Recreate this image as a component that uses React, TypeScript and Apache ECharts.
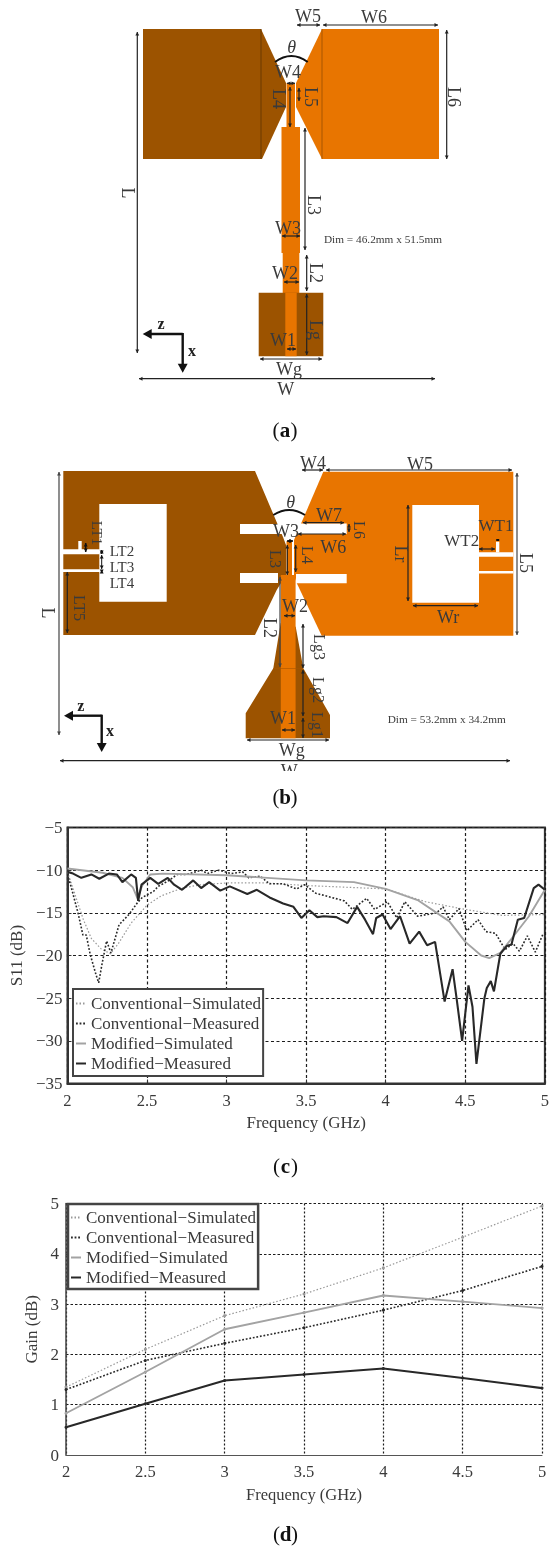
import React, { useEffect, useRef } from "react";
import * as echarts from "echarts";

const SERIES_NAMES = [
  "Conventional\u2212Simulated",
  "Conventional\u2212Measured",
  "Modified\u2212Simulated",
  "Modified\u2212Measured",
];

const s11ConvSim = [
  [2, -10.2], [2.05, -13], [2.1, -15.8], [2.15, -18], [2.21, -19.2], [2.27, -19.8], [2.32, -18.6], [2.4, -16.2],
  [2.5, -14.1], [2.59, -13], [2.72, -12.1], [2.84, -11.7], [3, -11.5], [3.25, -11.5], [3.5, -11.8], [3.75, -12],
  [4, -12.2], [4.25, -13.7], [4.5, -14.6], [4.73, -15.3], [5, -15.2],
];
const s11ConvMeas = [
  [2, -10.5], [2.025, -12.1], [2.066, -15], [2.097, -17.6], [2.118, -17.6], [2.143, -19.9], [2.18, -22.3], [2.196, -23.2],
  [2.217, -21], [2.246, -18.3], [2.273, -19.7], [2.324, -16.4], [2.386, -15.2], [2.44, -13.8], [2.47, -13.2], [2.54, -12.5],
  [2.57, -11.9], [2.63, -11.3], [2.69, -10.5], [2.75, -10.5], [2.84, -10], [2.88, -10.4], [2.95, -10], [3.03, -10.4],
  [3.1, -10.2], [3.14, -10.9], [3.21, -10.7], [3.27, -11.6], [3.355, -11.6], [3.44, -12.2], [3.49, -11.7], [3.56, -12.7],
  [3.66, -13.2], [3.74, -13.6], [3.79, -14.6], [3.88, -13.3], [3.93, -14.6], [4.01, -13.7], [4.07, -15.6], [4.12, -13.7],
  [4.2, -15.4], [4.32, -15], [4.36, -14.3], [4.4, -15.8], [4.46, -14.5], [4.51, -17.1], [4.58, -15.8], [4.63, -17.2],
  [4.69, -17.4], [4.75, -19.3], [4.8, -18.6], [4.84, -19.5], [4.89, -17.7], [4.94, -19.6], [4.99, -17.4],
];
const s11ModSim = [
  [2, -9.8], [2.22, -10.3], [2.345, -10.9], [2.41, -12], [2.44, -13.3], [2.47, -11.8], [2.52, -10.5], [2.6, -10.4],
  [3, -10.6], [3.5, -11.2], [3.8, -11.4], [4, -12.2], [4.2, -13.5], [4.4, -16], [4.5, -18.4], [4.6, -20], [4.65, -20.3],
  [4.72, -19.7], [4.8, -17.8], [4.9, -15.4], [5, -12.3],
];
const s11ModMeas = [
  [2, -10.2], [2.035, -10.4], [2.087, -10.9], [2.15, -10.5], [2.2, -11], [2.26, -10.4], [2.31, -10.5], [2.345, -11.4],
  [2.4, -10.5], [2.43, -10.9], [2.444, -13.6], [2.465, -11.7], [2.52, -10.9], [2.57, -11.6], [2.63, -10.9], [2.67, -11.7],
  [2.72, -12.3], [2.79, -11.2], [2.84, -12.1], [2.89, -11.4], [2.96, -12.4], [3.02, -11.9], [3.13, -12.8], [3.19, -12.3],
  [3.27, -13.2], [3.355, -13.9], [3.42, -14.3], [3.47, -15.6], [3.52, -14.7], [3.57, -15.5], [3.61, -15.4], [3.69, -15.5],
  [3.76, -16.2], [3.82, -14.3], [3.87, -15.8], [3.92, -17.5], [3.94, -15.6], [3.98, -15.2], [4.03, -16.9], [4.09, -15.4],
  [4.15, -18.6], [4.21, -17.2], [4.26, -18.8], [4.31, -18.4], [4.37, -25.4], [4.42, -21.6], [4.445, -25], [4.48, -30],
  [4.52, -23.5], [4.545, -26], [4.57, -32.7], [4.62, -25], [4.635, -23.8], [4.66, -23], [4.68, -24.2], [4.72, -19.8],
  [4.76, -18.9], [4.79, -18.7], [4.83, -15.8], [4.87, -15.6], [4.93, -12.1], [4.96, -11.7], [5, -12.3],
];

const gainFreq = [2, 2.5, 3, 3.5, 4, 4.5, 5];
const gainConvSim = [1.35, 2.1, 2.77, 3.2, 3.72, 4.33, 4.95];
const gainConvMeas = [1.3, 1.88, 2.22, 2.53, 2.88, 3.27, 3.75];
const gainModSim = [0.83, 1.65, 2.5, 2.83, 3.17, 3.05, 2.92];
const gainModMeas = [0.55, 1.02, 1.48, 1.6, 1.72, 1.53, 1.33];

const BROWN = "#9C5300";
const ORANGE = "#E87500";
const SERIF = "Liberation Serif";
const TEXT = "#3a3a3a";

const LINE_STYLES = [
  { color: "#999999", width: 1.2, type: [1.5, 2] },
  { color: "#2a2a2a", width: 1.6, type: [1.8, 1.8] },
  { color: "#a3a3a3", width: 1.9, type: "solid" },
  { color: "#282828", width: 2.1, type: "solid" },
];

const poly = (points: number[][], fill: string) => ({ type: "polygon", silent: true, shape: { points }, style: { fill } });
const box = (x: number, y: number, width: number, height: number, fill: string) => ({
  type: "rect", silent: true, shape: { x, y, width, height }, style: { fill },
});
const seg = (x1: number, y1: number, x2: number, y2: number, stroke = "#222", lineWidth = 1.2) => ({
  type: "line", silent: true, shape: { x1, y1, x2, y2 }, style: { stroke, lineWidth },
});
const head = (x: number, y: number, dx: number, dy: number, s: number, fill: string) =>
  poly([[x, y], [x - dx * s - dy * s * 0.55, y - dy * s - dx * s * 0.55], [x - dx * s + dy * s * 0.55, y - dy * s + dx * s * 0.55]], fill);
const dim = (x1: number, y1: number, x2: number, y2: number, stroke = "#222", lineWidth = 1.2) => {
  const l = Math.hypot(x2 - x1, y2 - y1) || 1;
  const dx = (x2 - x1) / l;
  const dy = (y2 - y1) / l;
  return [seg(x1, y1, x2, y2, stroke, lineWidth), head(x2, y2, dx, dy, 3.5, stroke), head(x1, y1, -dx, -dy, 3.5, stroke)];
};
const label = (text: string, x: number, y: number, size = 18, rot = false, extra: any = {}) => ({
  type: "text",
  silent: true,
  x,
  y,
  rotation: rot ? -Math.PI / 2 : 0,
  style: { text, fontFamily: SERIF, fontSize: size, fill: TEXT, align: "center", verticalAlign: "middle", ...extra },
});
const theta = (x: number, y: number) => label("\u03b8", x, y, 18, false, { fontStyle: "italic" });
const arc = (x1: number, x2: number, y: number, cy: number) => ({
  type: "bezierCurve",
  silent: true,
  shape: { x1, y1: y, x2, y2: y, cpx1: (x1 + x2) / 2, cpy1: cy },
  style: { stroke: "#111", lineWidth: 2, fill: "none" },
});
const axesGlyph = (cx: number, cy: number, lx: number, by: number, zx: number, zy: number, xx: number, xy: number) => [
  seg(cx, cy, lx + 6, cy, "#111", 2.4),
  seg(cx, cy - 1, cx, by - 6, "#111", 2.4),
  head(lx, cy, -1, 0, 9, "#111"),
  head(cx, by, 0, 1, 9, "#111"),
  label("z", zx, zy, 16, false, { fontWeight: "bold", fill: "#222" }),
  label("x", xx, xy, 16, false, { fontWeight: "bold", fill: "#222" }),
];
const caption = (t: string, x: number, y: number) => ({
  type: "group",
  silent: true,
  children: [
    label("(", x - 9, y, 21, false, { fill: "#111" }),
    label(t, x, y, 21, false, { fill: "#111", fontWeight: "bold" }),
    label(")", x + 9, y, 21, false, { fill: "#111" }),
  ],
});

const diagramA = [
  poly([[143, 29], [261, 29], [286, 83], [286, 107], [262, 159], [143, 159]], BROWN),
  seg(261, 29, 261, 159, "#6a3a00", 1),
  poly([[322, 29], [439, 29], [439, 159], [322, 159], [296, 107], [296, 83]], ORANGE),
  seg(322, 29, 322, 159, "#a85600", 1),
  box(286.5, 83, 8.5, 44, ORANGE),
  box(281.5, 127, 18.5, 126, ORANGE),
  box(282.7, 253, 16.6, 40, ORANGE),
  box(258.7, 292.7, 64.6, 63.5, BROWN),
  box(285.3, 292.7, 11.4, 63.5, ORANGE),
  ...dim(137.3, 32, 137.3, 353),
  ...dim(139, 378.7, 435, 378.7),
  ...dim(297, 25, 320, 25),
  ...dim(323, 25, 438, 25),
  arc(275, 307.7, 62, 50),
  ...dim(287, 83.3, 295, 83.3),
  ...dim(299, 88, 299, 101),
  ...dim(290, 87, 290, 127),
  ...dim(446.7, 30, 446.7, 159),
  ...dim(305, 128, 305, 250),
  ...dim(282, 236, 300, 236),
  ...dim(306.7, 255, 306.7, 291),
  ...dim(284, 282, 299, 282),
  ...dim(306.7, 294, 306.7, 355),
  ...dim(287, 349, 296, 349),
  ...dim(260, 359, 322, 359),
  label("W5", 308, 16),
  label("W6", 374, 17),
  theta(291.7, 47),
  label("W4", 288, 72),
  label("L5", 310.7, 97, 18, true),
  label("L4", 279, 99, 18, true),
  label("L6", 454, 97, 18, true),
  label("L", 128, 193, 18, true),
  label("L3", 314, 205, 18, true),
  label("W3", 288, 228),
  label("L2", 316, 273, 18, true),
  label("W2", 285, 273),
  label("Lg", 316, 330, 18, true),
  label("W1", 283, 340),
  label("Wg", 289, 368.7),
  label("W", 285.7, 389),
  label("Dim = 46.2mm x 51.5mm", 383, 239, 11.3),
  ...axesGlyph(182.7, 334, 142.7, 372.7, 161, 323, 192, 350),
  caption("a", 285, 430),
];

const diagramB = [
  poly([[63.3, 471], [255, 471], [283, 537], [286, 545], [286, 575], [276.7, 590], [255, 635], [63.3, 635]], BROWN),
  box(240, 524, 43, 10, "#fff"),
  box(240, 573, 38, 10, "#fff"),
  box(99.3, 504, 67.4, 97.7, "#fff"),
  box(63, 549.3, 37, 5, "#fff"),
  box(63, 569.3, 37, 2.6, "#fff"),
  box(78.3, 541, 3.4, 9, "#fff"),
  poly([[323.3, 471.7], [513.3, 471.7], [513.3, 635.7], [321.7, 635.7], [296.7, 583], [294, 575], [294, 540]], ORANGE),
  box(298, 523.5, 48.7, 10.5, "#fff"),
  box(296, 574, 50.7, 9.3, "#fff"),
  box(412.3, 505, 66.7, 97.7, "#fff"),
  box(479, 552.3, 34.3, 4.4, "#fff"),
  box(479, 571, 34.3, 2.4, "#fff"),
  box(496, 541.7, 3.3, 10.6, "#fff"),
  poly([[245.7, 738.3], [330, 738.3], [330, 715], [303.3, 668.3], [295.7, 626.7], [280.7, 623], [273.3, 668.3], [245.7, 713.3]], BROWN),
  box(286.5, 541, 5.5, 34, ORANGE),
  box(280.8, 575, 14.8, 163.3, ORANGE),
  seg(273, 668.5, 303, 668.5, "#a85600", 0.6),
  ...dim(59, 472, 59, 735, "#444", 1.2),
  ...dim(60, 760.7, 510, 760.7),
  ...dim(247, 740, 329, 740),
  ...dim(282, 730, 295, 730),
  ...dim(303, 718, 303, 738),
  ...dim(303, 670, 303, 716),
  ...dim(303, 624, 303, 668),
  ...dim(280, 577, 280, 667, "#444", 1.2),
  ...dim(284, 615.7, 295, 615.7),
  ...dim(413, 605.7, 478, 605.7),
  ...dim(408, 505, 408, 601),
  ...dim(517, 473, 517, 635, "#444", 1.2),
  ...dim(326, 470, 512, 470),
  ...dim(302, 470, 323, 470),
  arc(273.3, 305, 515, 505),
  ...dim(287, 541, 293, 541, "#111", 1.5),
  ...dim(303, 522.7, 344, 522.7),
  ...dim(349, 524, 349, 532),
  ...dim(298, 534, 346, 534),
  ...dim(295.7, 545, 295.7, 572),
  ...dim(287.3, 545, 287.3, 575),
  ...dim(479, 549, 495, 549),
  seg(497.7, 539, 497.7, 541, "#111", 3),
  ...dim(85.7, 543, 85.7, 552, "#111", 1.5),
  ...dim(101.7, 550, 101.7, 554, "#111", 1),
  ...dim(101.7, 555, 101.7, 569, "#111", 1),
  ...dim(101.7, 570, 101.7, 573, "#111", 1),
  ...dim(67.3, 572, 67.3, 633),
  label("L", 48, 613, 18, true),
  label("W", 289.3, 771),
  box(260, 771, 60, 8, "#fff"),
  label("Wg", 291.7, 750),
  label("W1", 283, 718),
  label("Lg1", 317, 725, 16, true),
  label("Lg2", 318, 690, 16, true),
  label("Lg3", 319, 647, 16, true),
  label("L2", 270, 628, 18, true),
  label("W2", 295, 606),
  label("Dim = 53.2mm x 34.2mm", 446.7, 719, 11.3),
  label("Wr", 448, 616.7),
  label("Lr", 400.7, 554, 18, true),
  label("L5", 525.7, 563, 18, true),
  label("W5", 420, 464),
  label("W4", 313, 463),
  theta(290.7, 501.7),
  label("W3", 286, 531),
  label("W7", 329, 515),
  label("L6", 359.3, 530, 16, true),
  label("W6", 333.3, 547.3),
  label("L4", 307.3, 555, 16, true),
  label("L3", 275.7, 559, 16, true),
  label("WT1", 496, 525, 17),
  label("WT2", 461.7, 540, 17),
  label("LT1", 97, 533, 15, true),
  label("LT2", 122, 550.5, 15),
  label("LT3", 122, 566.5, 15),
  label("LT4", 122, 582.5, 15),
  label("LT5", 79, 608, 16, true),
  ...axesGlyph(101.7, 715.7, 64, 752, 80.7, 705, 110, 730),
  caption("b", 285, 797),
];

const captions = [caption("c", 285.5, 1166), caption("d", 285.5, 1534)];

const axisText = { fontFamily: SERIF, fontSize: 16.5, color: TEXT };
const makeLegend = (left: number, top: number, padding: number[], borderWidth: number) => ({
  show: true,
  data: SERIES_NAMES,
  orient: "vertical",
  left,
  top,
  padding,
  itemWidth: 10,
  itemHeight: 14,
  itemGap: 3,
  selectedMode: false,
  backgroundColor: "#fff",
  borderColor: "#444",
  borderWidth,
  borderRadius: 0,
  itemStyle: { color: "transparent", borderWidth: 0, opacity: 0 },
  textStyle: { fontFamily: SERIF, fontSize: 17, color: TEXT },
});

const lineSeries = (i: number, xAxisIndex: number, yAxisIndex: number, data: number[][], symbol: boolean) => ({
  name: SERIES_NAMES[i],
  type: "line",
  xAxisIndex,
  yAxisIndex,
  data,
  showSymbol: symbol,
  symbol: symbol ? "circle" : "none",
  symbolSize: 3,
  itemStyle: { color: LINE_STYLES[i].color },
  lineStyle: LINE_STYLES[i],
  silent: true,
});

const zipGain = (values: number[]) => gainFreq.map((f, i) => [f, values[i]]);

const splitLine = (type: any, color = "#1c1c1c", width = 1.2) => ({ show: true, lineStyle: { type, color, width } });

export default function App() {
  const ref = useRef<HTMLDivElement>(null);
  useEffect(() => {
    const chart = echarts.init(ref.current!, null, { renderer: "svg" });
    chart.setOption({
      animation: false,
      backgroundColor: "#fff",
      graphic: { elements: [...diagramA, ...diagramB, ...captions] },
      legend: [makeLegend(73, 989, [6, 2, 4, 2], 2), makeLegend(68, 1204, [5, 2, 3, 2], 2.5)],
      grid: [
        { left: 64.5, top: 827.5, width: 485, height: 256, show: true, borderColor: "#333", borderWidth: 2, backgroundColor: "transparent" },
        { left: 66, top: 1203.5, width: 476, height: 251.5, show: false },
      ],
      xAxis: [
        {
          type: "value", gridIndex: 0, min: 2, max: 5, interval: 0.5,
          name: "Frequency (GHz)", nameLocation: "middle", nameGap: 30, nameTextStyle: { ...axisText, fontSize: 17 },
          axisLabel: { ...axisText, margin: 8 },
          axisTick: { show: true, inside: true, length: 4, lineStyle: { color: "#333" } },
          axisLine: { show: true, onZero: false, lineStyle: { color: "#333", width: 2 } },
          splitLine: splitLine([3, 2.5]),
        },
        {
          type: "value", gridIndex: 1, min: 2, max: 5, interval: 0.5,
          name: "Frequency (GHz)", nameLocation: "middle", nameGap: 31, nameTextStyle: { ...axisText, fontSize: 16.5 },
          axisLabel: { ...axisText, margin: 8 },
          axisTick: { show: false },
          axisLine: { show: true, onZero: false, lineStyle: { color: "#555", width: 1 } },
          splitLine: splitLine([2, 2]),
        },
      ],
      yAxis: [
        {
          type: "value", gridIndex: 0, min: -35, max: -5, interval: 5,
          name: "S11 (dB)", nameLocation: "middle", nameGap: 29, nameTextStyle: { ...axisText, fontSize: 17 },
          axisLabel: { ...axisText, fontSize: 17, margin: 5, formatter: (v: number) => String(v).replace("-", "\u2212") },
          axisTick: { show: true, inside: true, length: 4, lineStyle: { color: "#333" } },
          axisLine: { show: true, onZero: false, lineStyle: { color: "#333", width: 2 } },
          splitLine: splitLine([3, 2.5]),
        },
        {
          type: "value", gridIndex: 1, min: 0, max: 5, interval: 1,
          name: "Gain (dB)", nameLocation: "middle", nameGap: 23, nameTextStyle: { ...axisText, fontSize: 17 },
          axisLabel: { ...axisText, fontSize: 17, margin: 7 },
          axisTick: { show: false },
          axisLine: { show: true, onZero: false, lineStyle: { color: "#444", width: 1.5 } },
          splitLine: splitLine([2.5, 2]),
        },
      ],
      series: [
        lineSeries(0, 0, 0, s11ConvSim, false),
        lineSeries(1, 0, 0, s11ConvMeas, false),
        lineSeries(2, 0, 0, s11ModSim, false),
        lineSeries(3, 0, 0, s11ModMeas, false),
        lineSeries(0, 1, 1, zipGain(gainConvSim), true),
        lineSeries(1, 1, 1, zipGain(gainConvMeas), true),
        lineSeries(2, 1, 1, zipGain(gainModSim), true),
        lineSeries(3, 1, 1, zipGain(gainModMeas), true),
      ],
    });
    return () => chart.dispose();
  }, []);
  return (
    <div
      ref={ref}
      style={{ position: "absolute", left: 0, top: 0, width: 552, height: 1547, filter: "blur(0.4px)" }}
    />
  );
}
